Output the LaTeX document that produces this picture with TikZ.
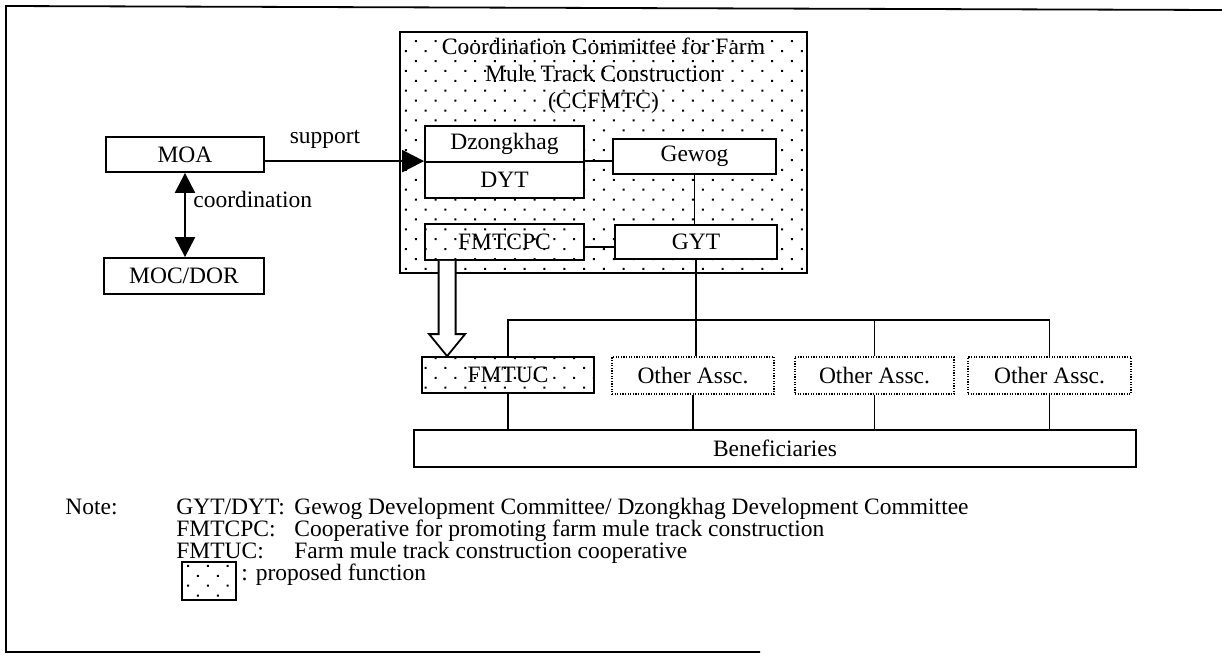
\documentclass[tikz,border=0pt]{standalone}
\usepackage{fontspec}
\setmainfont{Liberation Serif}
\usepackage{tikz}
\usetikzlibrary{arrows.meta,calc,patterns.meta}
\tikzstyle{tsText} = [
    text=black,
    font=\fontsize{11.75pt}{13.5pt}\selectfont
]
\tikzstyle{tsBox} = [
    rectangle,
    tsText,
    draw=black,
    fill=white,
    line width=0.9pt,
    inner sep=0pt,
    text centered]
\tikzstyle{tsProposed} = [
    tsBox,
    preaction={fill=white},
    pattern={Dots[angle=45, distance=7pt, radius=0.7pt]}
]
\tikzstyle{tsOther} = [
    tsBox,
    line width=0.6pt,
    dash pattern=on 0.6pt off 0.7pt
]
\tikzstyle{tsLink} = [line width=0.6pt]
\tikzstyle{tsNote} = [
    tsText,
    anchor=base west,
    inner sep=0pt
]

\begin{document}
\begin{tikzpicture}[x=0.5pt, y=-0.5pt]
        \useasboundingbox (0,0) rectangle (1222,655);

        % open frame of the scanned page
        \draw[line width=0.9pt] (1222,10) -- (6,6) -- (6,652) -- (760,652);

        \node[tsBox, minimum width=79pt, minimum height=17.5pt] (moa) at (185,154.5) {MOA};
        \node[tsBox, minimum width=80pt, minimum height=18pt] (mocdor) at (184,276) {MOC/DOR};

        \node[tsProposed, minimum width=203.5pt, minimum height=120.5pt] (ccfmtc) at (603.5,152.5) {};
        \node[tsText, align=center, inner sep=0pt] (ccfmtctitle) at (603.5,76)
            {Coordination Committee for Farm\\Mule Track Construction\\(CCFMTC)};

        \node[tsBox, minimum width=79.5pt, minimum height=18pt] (dzongkhag) at (504.5,144) {Dzongkhag};
        \node[tsBox, minimum width=79.5pt, minimum height=18pt] (dyt) at (504.5,180) {DYT};
        \node[tsBox, minimum width=81.5pt, minimum height=17.5pt] (gewog) at (694.5,156.5) {Gewog};
        \node[tsBox, minimum width=81pt, minimum height=17pt] (gyt) at (696,242) {GYT};
        \node[tsProposed, minimum width=79.5pt, minimum height=18pt] (fmtcpc) at (504.5,242) {FMTCPC};

        \node[tsProposed, minimum width=86pt, minimum height=18pt] (fmtuc) at (508,375) {FMTUC};
        \node[tsOther, minimum width=81pt, minimum height=18.5pt] (assca) at (693,375.5) {Other Assc.};
        \node[tsOther, minimum width=79.5pt, minimum height=18.5pt] (asscb) at (874.5,375.5) {Other Assc.};
        \node[tsOther, minimum width=81.5pt, minimum height=18.5pt] (asscc) at (1049.5,375.5) {Other Assc.};
        \node[tsBox, minimum width=361pt, minimum height=18.5pt] (beneficiaries) at (775,448.5) {Beneficiaries};

        % support and coordination
        \draw[line width=1.1pt, -{Triangle[length=11pt,width=11pt]}] (moa.east |- dyt.north) -- (dyt.north west);
        \draw[line width=1.1pt] (dyt.north east) -- (dyt.north east -| gewog.west);
        \node[tsText, anchor=base, inner sep=0pt] (supportlabel) at (325,143) {support};

        \draw[line width=1.1pt, {Triangle[length=10pt,width=10pt]}-{Triangle[length=10pt,width=10pt]}]
            (moa.south) -- (moa.south |- mocdor.north);
        \node[tsText, anchor=base west, inner sep=0pt] (coordlabel) at (193,207) {coordination};

        % links inside and below the committee
        \draw[tsLink] (gewog.south) -- (gewog.south |- gyt.north);
        \draw[tsLink] ([yshift=-2.5pt]fmtcpc.east) -- ([yshift=-2.5pt]fmtcpc.east -| gyt.west);
        \draw[tsLink] (assca.north -| gyt.south) -- (gyt.south);

        \coordinate (bus) at (0,320);
        \draw[tsLink] (fmtuc.north) -- (fmtuc.north |- bus) -- (asscc.north |- bus) -- (asscc.north);
        \draw[tsLink] (asscb.north) -- (asscb.north |- bus);
        \foreach \n in {fmtuc,assca,asscb,asscc}
            \draw[tsLink] (\n.south) -- (\n.south |- beneficiaries.north);

        % hollow hand-over arrow
        \coordinate (handtail) at ($(fmtcpc.south west)+(23,0)$);
        \coordinate (handtip) at (handtail |- fmtuc.north);
        \draw[line width=0.9pt, fill=white, line join=miter]
            ($(handtail)+(-8.5,0)$) -- ($(handtip)+(-8.5,-22)$) -- ($(handtip)+(-18,-22)$) -- (handtip)
            -- ($(handtip)+(18,-22)$) -- ($(handtip)+(8.5,-22)$) -- ($(handtail)+(8.5,0)$);

        % note
        \node[tsNote] (notehead) at (65,514) {Note:};
        \node[tsNote] (gytdytkey) at (176,514) {GYT/DYT:};
        \node[tsNote] (gytdytdef) at (294,514) {Gewog Development Committee/ Dzongkhag Development Committee};
        \node[tsNote] (fmtcpckey) at (176,536) {FMTCPC:};
        \node[tsNote] (fmtcpcdef) at (294,536) {Cooperative for promoting farm mule track construction};
        \node[tsNote] (fmtuckey) at (176,558) {FMTUC:};
        \node[tsNote] (fmtucdef) at (294,558) {Farm mule track construction cooperative};
        \node[tsProposed, minimum width=27pt, minimum height=19pt] (legendbox) at (209,581) {};
        \node[tsNote] (legenddef) at (241,580) {: proposed function};

    \end{tikzpicture}
\end{document}
